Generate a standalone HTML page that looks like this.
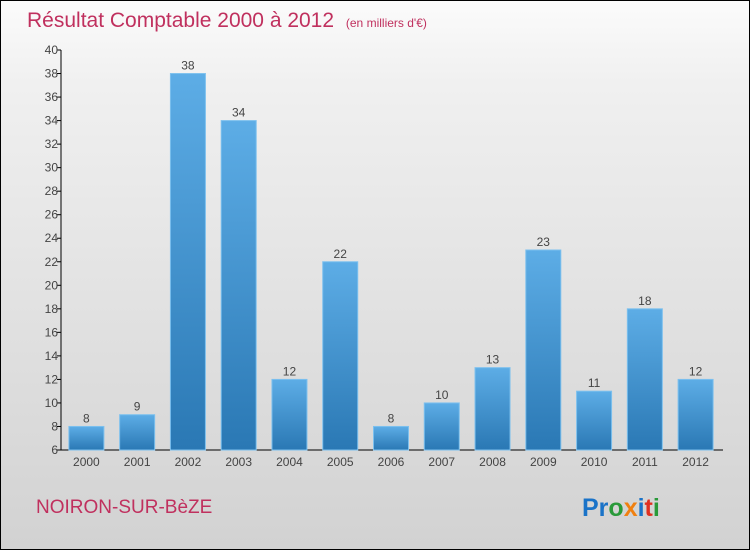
<!DOCTYPE html>
<html><head><meta charset="utf-8"><style>
body{margin:0;}
#c{width:750px;height:550px;position:relative;box-sizing:border-box;border:1px solid #000;background:linear-gradient(#fbfbfb,#f0f0f0 15%,#d2d2d2);font-family:"Liberation Sans",sans-serif;overflow:hidden}
</style></head><body>
<div id="c">
<svg width="748" height="548">
<defs><linearGradient id="bg" x1="0" y1="0" x2="0" y2="1"><stop offset="0" stop-color="#5dade6"/><stop offset="1" stop-color="#2a78b4"/></linearGradient></defs>
<text x="26" y="26" font-size="21" fill="#c0305e">Résultat Comptable 2000 à 2012 <tspan font-size="12" dx="6">(en milliers d'€)</tspan></text>
<g id="plot"></g>
<text x="35" y="512" font-size="19" fill="#c0305e">NOIRON-SUR-BèZE</text>
<text x="581" y="515" font-size="25" font-weight="bold"><tspan fill="#1a73c8">Pr</tspan><tspan fill="#2a9a3a">o</tspan><tspan fill="#f08010">x</tspan><tspan fill="#1a73c8">i</tspan><tspan fill="#e03020">t</tspan><tspan fill="#2a9a3a">i</tspan></text>
</svg>
</div>
<script>
const categories=["2000","2001","2002","2003","2004","2005","2006","2007","2008","2009","2010","2011","2012"];
const values=[8,9,38,34,12,22,8,10,13,23,11,18,12];
const yTicks=[6,8,10,12,14,16,18,20,22,24,26,28,30,32,34,36,38,40];
const NS="http://www.w3.org/2000/svg";
const g=document.getElementById("plot");
const x0=60,x1=720,yTop=49,yBot=449,vMin=6,vMax=40;
const step=(x1-x0)/categories.length;
const y=v=>yBot-(v-vMin)/(vMax-vMin)*(yBot-yTop);
const xc=i=>x0+step*(i+0.5);
function el(t,a){const e=document.createElementNS(NS,t);for(const k in a)e.setAttribute(k,a[k]);g.appendChild(e);return e;}
const ax=el("line",{x1:x0,y1:yTop,x2:x0,y2:yBot,stroke:"#000"});


const bx=el("line",{x1:x0,y1:yBot,x2:x1+2,y2:yBot,stroke:"#000"});


yTicks.forEach(t=>{
 const tk=el("line",{x1:x0-4,y1:y(t),x2:x0,y2:y(t),stroke:"#000"});
 
 
 const tx=el("text",{x:x0-3,y:y(t)+4,"font-size":12,fill:"#444","text-anchor":"end"});
 tx.textContent=t;
 
 
});
categories.forEach((c,i)=>{
 const w=35,v=values[i];
 const b=el("rect",{x:xc(i)-w/2,y:y(v),width:w,height:yBot-y(v),fill:"url(#bg)",stroke:"#7cc0ee","stroke-width":1});
 
 
 const vl=el("text",{x:xc(i),y:y(v)-4,"font-size":12,fill:"#444","text-anchor":"middle"});
 vl.textContent=v;
 
 
 const cl=el("text",{x:xc(i),y:yBot+16,"font-size":12,fill:"#444","text-anchor":"middle"});
 cl.textContent=c;
 
 
});
</script>
</body></html>
